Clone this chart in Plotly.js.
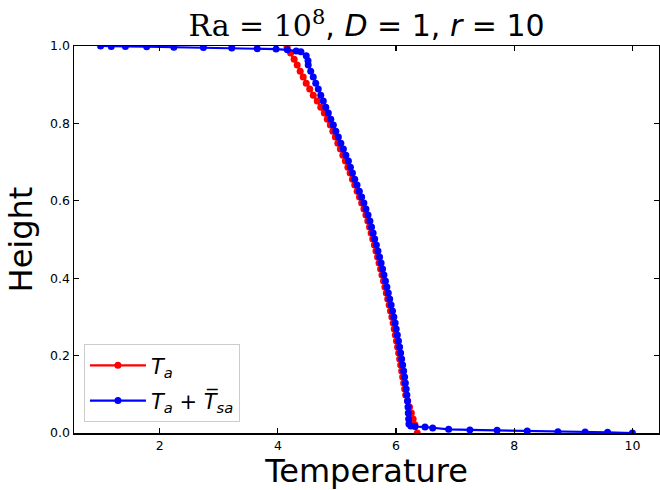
<!DOCTYPE html>
<html>
<head>
<meta charset="utf-8">
<script src="https://cdn.plot.ly/plotly-3.0.1.min.js"></script>
<style>html,body{margin:0;padding:0;background:#fff;}#chart{width:660px;height:490px;}</style>
</head>
<body>
<div id="chart"></div>
<script>
// T_a (red)
const taTemp = [4.156, 4.216, 4.276, 4.327, 4.378, 4.429, 4.480, 4.539, 4.599, 4.667,
  4.726, 4.786, 4.837, 4.888, 4.930, 4.973, 5.015, 5.058, 5.100, 5.143,
  5.185, 5.223, 5.262, 5.301, 5.342, 5.381, 5.418, 5.456, 5.490, 5.522,
  5.551, 5.578, 5.605, 5.633, 5.660, 5.687, 5.712, 5.738, 5.762, 5.787,
  5.811, 5.835, 5.859, 5.883, 5.906, 5.929, 5.951, 5.969, 5.988, 6.007,
  6.026, 6.044, 6.061, 6.078, 6.095, 6.112, 6.129, 6.146, 6.163,
  6.197, 6.228, 6.259, 6.289, 6.320, 6.359];
const taHeight = [0.997, 0.982, 0.966, 0.951, 0.935, 0.920, 0.904, 0.889, 0.873, 0.858,
  0.842, 0.827, 0.811, 0.796, 0.780, 0.765, 0.749, 0.734, 0.718, 0.703,
  0.687, 0.672, 0.656, 0.641, 0.625, 0.610, 0.594, 0.579, 0.563, 0.548,
  0.532, 0.517, 0.501, 0.486, 0.470, 0.455, 0.439, 0.424, 0.408, 0.393,
  0.377, 0.362, 0.346, 0.331, 0.315, 0.300, 0.284, 0.269, 0.253, 0.238,
  0.222, 0.207, 0.191, 0.176, 0.160, 0.145, 0.129, 0.114, 0.098,
  0.083, 0.067, 0.052, 0.036, 0.021, 0.0];
// T_a + mean T_sa (blue)
const tsTemp = [1.0, 1.18, 1.42, 1.78, 2.24, 2.74, 3.22, 3.65, 3.97, 4.16, 4.31, 4.39, 4.48, 4.51,
  4.514, 4.556, 4.599, 4.641, 4.684, 4.726, 4.769, 4.811, 4.854, 4.896,
  4.939, 4.981, 5.024, 5.066, 5.109, 5.151, 5.194, 5.228, 5.262, 5.301,
  5.340, 5.379, 5.418, 5.456, 5.491, 5.526, 5.558, 5.585, 5.612, 5.639,
  5.667, 5.694, 5.721, 5.747, 5.772, 5.796, 5.821, 5.845, 5.869, 5.893,
  5.917, 5.940, 5.963, 5.985, 6.003, 6.022, 6.041, 6.060, 6.078, 6.095,
  6.112, 6.129, 6.145, 6.158, 6.172, 6.184, 6.194, 6.202, 6.207, 6.213, 6.218,
  6.25, 6.32, 6.49, 6.62, 6.89, 7.25, 7.71, 8.22, 8.74, 9.20, 9.58, 10.0];
const tsHeight = [1.0, 0.999, 0.999, 0.998, 0.997, 0.996, 0.995, 0.993, 0.992, 0.990, 0.987, 0.985, 0.975, 0.962,
  0.951, 0.935, 0.920, 0.904, 0.889, 0.873, 0.858, 0.842, 0.827, 0.811,
  0.796, 0.780, 0.765, 0.749, 0.734, 0.718, 0.703, 0.687, 0.672, 0.656,
  0.641, 0.625, 0.610, 0.594, 0.579, 0.563, 0.548, 0.532, 0.517, 0.501,
  0.486, 0.470, 0.455, 0.439, 0.424, 0.408, 0.393, 0.377, 0.362, 0.346,
  0.331, 0.315, 0.300, 0.284, 0.269, 0.253, 0.238, 0.222, 0.207, 0.191,
  0.176, 0.160, 0.145, 0.129, 0.114, 0.098, 0.083, 0.067, 0.052, 0.036, 0.023,
  0.018, 0.0165, 0.0155, 0.013, 0.0096, 0.008, 0.007, 0.005, 0.0035, 0.0026, 0.002, 0.0];

const xTicks = [2, 4, 6, 8, 10];
const yTicks = [0.0, 0.2, 0.4, 0.6, 0.8, 1.0];

const traces = [
  {x: taTemp, y: taHeight, type: 'scatter', mode: 'lines+markers', legendgroup: 'a',
   name: '<i>T</i><sub><i>a</i></sub>',
   line: {color: '#ff0000', width: 2.2}, marker: {color: '#ff0000', size: 7}},
  {x: tsTemp, y: tsHeight, type: 'scatter', mode: 'lines+markers', legendgroup: 'b',
   name: '<i>T</i><sub><i>a</i></sub> + <i>T\u0305</i><sub><i>sa</i></sub>',
   line: {color: '#0000ff', width: 2.2}, marker: {color: '#0000ff', size: 7}}
];

const axisCommon = {
  showgrid: false, zeroline: false, showline: true, linecolor: '#000', linewidth: 1.5,
  mirror: 'ticks', ticks: 'inside', ticklen: 5, tickwidth: 1.2, tickcolor: '#000',
  tickfont: {family: 'DejaVu Sans', size: 12.5, color: '#000'}
};

const layout = {
  width: 660, height: 490,
  margin: {l: 74, r: 1, t: 46, b: 57},
  paper_bgcolor: '#fff', plot_bgcolor: '#fff',
  font: {family: 'DejaVu Sans', color: '#000'},
  showlegend: true,
  title: {
    text: '<span style="font-family:DejaVu Serif">Ra = 10<sup>8</sup></span>, <i>D</i> = 1, <i>r</i> = 10',
    font: {family: 'DejaVu Sans', size: 30, color: '#000'},
    x: 0.5, xanchor: 'center', xref: 'paper', y: 0.947, yref: 'container', yanchor: 'middle'
  },
  xaxis: Object.assign({}, axisCommon, {
    range: [0.55, 10.45], tickvals: xTicks, ticktext: xTicks.map(String),
    title: {text: 'Temperature', font: {family: 'DejaVu Sans', size: 32, color: '#000'}, standoff: 4}
  }),
  yaxis: Object.assign({}, axisCommon, {
    range: [0, 1], tickvals: yTicks, ticktext: yTicks.map(v => v.toFixed(1)),
    title: {text: 'Height', font: {family: 'DejaVu Sans', size: 32, color: '#000'}, standoff: 8}
  }),
  legend: {
    x: 0.017, y: 0.028, xanchor: 'left', yanchor: 'bottom',
    bgcolor: 'rgba(255,255,255,0.8)', bordercolor: '#cccccc', borderwidth: 1,
    font: {family: 'DejaVu Sans', size: 21, color: '#000'},
    tracegroupgap: 5, itemwidth: 56
  }
};

Plotly.newPlot('chart', traces, layout, {staticPlot: true, displayModeBar: false});
</script>
</body>
</html>
